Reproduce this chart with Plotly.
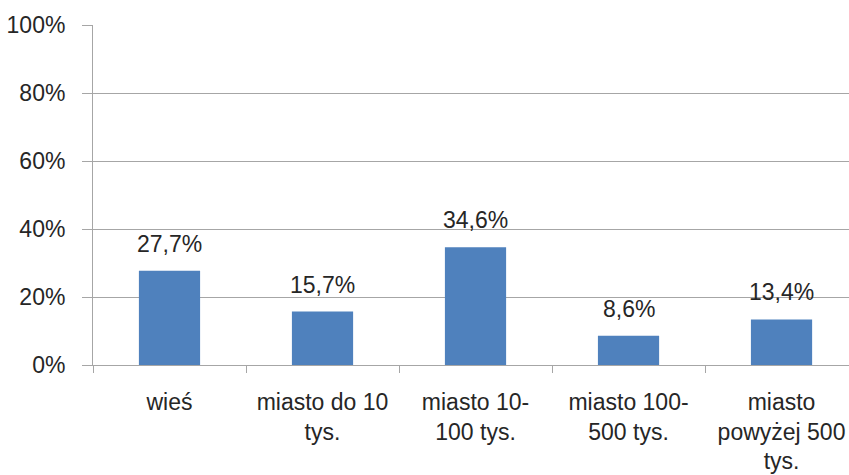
import plotly.graph_objects as go

categories = ["wieś", "miasto do 10<br>tys.", "miasto 10-<br>100 tys.",
              "miasto 100-<br>500 tys.", "miasto<br>powyżej 500<br>tys."]
values = [0.277, 0.157, 0.346, 0.086, 0.134]
labels = [f"{v*100:.1f}%".replace(".", ",") for v in values]
y_ticks = [0, 0.2, 0.4, 0.6, 0.8, 1.0]
y_tick_text = ["0%", "20%", "40%", "60%", "80%", "100%"]

FONT = "Liberation Sans, Arial, sans-serif"
TXT = "#262626"
GRID = "#A6A6A6"

fig = go.Figure()
fig.add_trace(go.Bar(x=categories, y=values, width=0.4,
                     marker=dict(color="#4F81BD", line=dict(width=0))))

for c, v, t in zip(categories, values, labels):
    fig.add_annotation(x=c, y=v, text=t, showarrow=False, yanchor="bottom",
                       yshift=12, font=dict(family=FONT, size=23, color=TXT))

fig.update_layout(
    width=849, height=475,
    margin=dict(l=93, r=0, t=25, b=110, autoexpand=False),
    paper_bgcolor="white", plot_bgcolor="white",
    showlegend=False,
    bargap=0.6,
)
fig.update_xaxes(
    range=[-0.5, 4.441], showgrid=False, showline=True, linecolor=GRID, linewidth=1,
    ticks="outside", tickson="boundaries", ticklen=7, tickcolor=GRID,
    ticklabelstandoff=16,
    tickfont=dict(family=FONT, size=23, color=TXT), automargin=False,
)
fig.update_yaxes(
    range=[0, 1], tickvals=y_ticks, ticktext=y_tick_text,
    showgrid=True, gridcolor=GRID, gridwidth=1,
    showline=True, linecolor=GRID, linewidth=1,
    ticks="outside", ticklen=10, tickcolor=GRID, ticklabelstandoff=12,
    tickfont=dict(family=FONT, size=23, color=TXT), automargin=False,
    zeroline=False,
)
fig.write_html("out.html")
